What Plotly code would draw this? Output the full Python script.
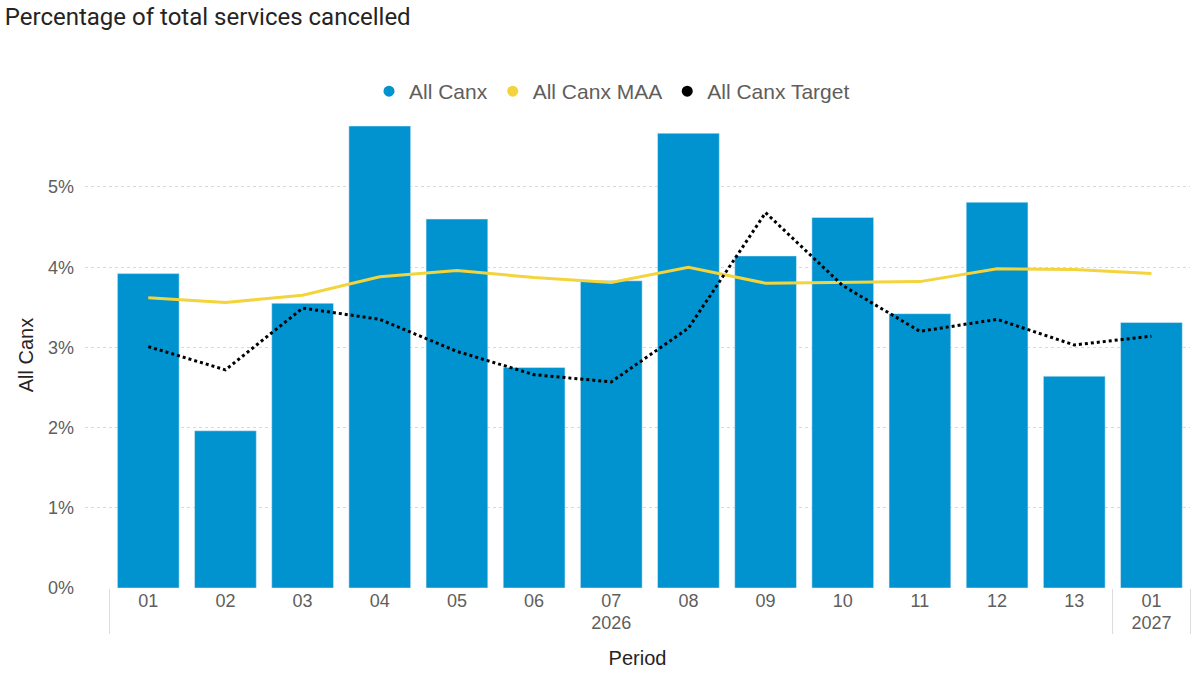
import plotly.graph_objects as go

periods = ["01", "02", "03", "04", "05", "06", "07", "08", "09", "10", "11", "12", "13", "01"]
years = ["2026"] * 13 + ["2027"]
all_canx = [3.92, 1.96, 3.55, 5.76, 4.60, 2.75, 3.83, 5.67, 4.14, 4.62, 3.42, 4.81, 2.64, 3.31]
all_canx_maa = [3.62, 3.56, 3.65, 3.88, 3.96, 3.87, 3.81, 4.00, 3.80, 3.81, 3.82, 3.98, 3.97, 3.92]
all_canx_target = [3.01, 2.72, 3.49, 3.35, 2.95, 2.66, 2.57, 3.24, 4.68, 3.77, 3.20, 3.35, 3.03, 3.14]

BLUE = "#0093D0"
YELLOW = "#F3D43C"
BLACK = "#000000"
TICK = "#605E5C"

x = [years, periods]
fig = go.Figure()
fig.add_trace(go.Bar(x=x, y=all_canx, marker_color=BLUE, name="All Canx",
                     showlegend=False, width=0.8))
fig.add_trace(go.Scatter(x=x, y=all_canx_maa, mode="lines", name="All Canx MAA",
                         line=dict(color=YELLOW, width=3), showlegend=False))
fig.add_trace(go.Scatter(x=x, y=all_canx_target, mode="lines", name="All Canx Target",
                         line=dict(color=BLACK, width=3, dash="dot"), showlegend=False))
# legend entries (circle markers)
for nm, col in [("All Canx", BLUE), ("All Canx MAA", YELLOW), ("All Canx Target", BLACK)]:
    fig.add_trace(go.Scatter(x=[None], y=[None], mode="markers", name=nm,
                             marker=dict(color=col, size=11, symbol="circle")))

fig.update_layout(
    width=1200, height=683,
    margin=dict(l=85, r=10, t=115, b=95),
    paper_bgcolor="white", plot_bgcolor="white",
    title=dict(text="Percentage of total services cancelled", x=0.004, xref="container",
               y=0.988, yref="container", yanchor="top", xanchor="left",
               font=dict(family="Roboto", size=24, color="#252423")),
    legend=dict(orientation="h", x=0.51, xref="container", xanchor="center",
                y=0.866, yref="container", yanchor="middle",
                font=dict(family="Liberation Sans, Arial", size=21, color=TICK),
                itemwidth=30, traceorder="normal"),
    font=dict(family="Liberation Sans, Arial", color=TICK),
    bargap=0.2,
)
fig.update_xaxes(type="multicategory", range=[-0.82, 13.5],
                 tickfont=dict(size=18, color=TICK),
                 showdividers=True, dividercolor="#DDDDDD", dividerwidth=1,
                 showgrid=False, zeroline=False, showline=False, ticks="",
                 title=dict(text="Period", font=dict(size=20, color="#252423"), standoff=18))
fig.update_yaxes(range=[0, 5.81], dtick=1, ticksuffix="%",
                 tickfont=dict(size=18, color=TICK),
                 showgrid=True, gridcolor="#D9D9D9", griddash="dot", gridwidth=1,
                 zeroline=False, showline=False, ticklabelstandoff=10,
                 title=dict(text="All Canx", font=dict(size=20, color="#252423"), standoff=8))

fig.write_html("out.html")
